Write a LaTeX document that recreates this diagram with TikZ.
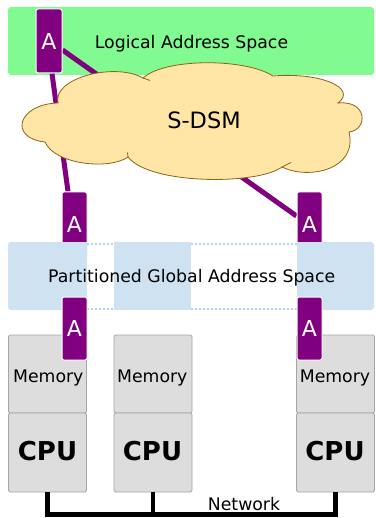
\documentclass[tikz,border=0pt]{standalone}
\usepackage{fontspec}
\setmainfont{DejaVu Sans}
\pgfdeclarelayer{bg}
\pgfdeclarelayer{links}
\pgfsetlayers{bg,links,main}
\definecolor{lasgreen}{RGB}{128,250,145}
\definecolor{apurple}{RGB}{128,0,128}
\definecolor{pgasblue}{RGB}{207,226,242}
\definecolor{dotblue}{RGB}{180,210,238}
\definecolor{cloudfill}{RGB}{255,230,166}
\definecolor{cloudline}{RGB}{140,100,20}
\definecolor{cellgray}{RGB}{221,221,221}
\definecolor{cellborder}{RGB}{165,165,165}
\begin{document}
\begin{tikzpicture}[x=1pt,y=-1pt,
  txt/.style={font=\fontsize{17.3}{20}\selectfont, inner sep=0, anchor=base},
  abox/.style={fill=apurple, draw=white, line width=1pt, rounded corners=2pt,
    minimum width=26pt, minimum height=64pt, inner sep=0, text=white,
    font=\fontsize{22}{24}\selectfont},
  link/.style={draw=apurple, line width=5pt},
  cell/.style={fill=cellgray, draw=cellborder, line width=0.8pt,
    rounded corners=1.5pt, minimum width=78pt, inner sep=0},
  cloudshape/.style={fill=cloudfill, draw=cloudline, line width=0.8pt},
  cloudtick/.style={draw=cloudline, line width=0.8pt},
  dots/.style={draw=dotblue, line width=2pt, dash pattern=on 2pt off 2pt},
  net/.style={draw=black, line width=4.5pt},
  cpulbl/.style={font=\fontsize{26}{30}\selectfont\bfseries, inner sep=0, anchor=base},
]
\useasboundingbox (0,0) rectangle (375,518);

% logical address space
\begin{pgfonlayer}{bg}
  \node[fill=lasgreen, rounded corners=3pt, minimum width=366pt,
        minimum height=68pt, inner sep=0] (las) at (191,41) {};
\end{pgfonlayer}
\node[txt] (lastxt) at (191.5,48.3) {Logical Address Space};

% accessor boxes
\node[abox] (tA) at (49,41) {A};
\node[abox, minimum width=25pt] (lA) at (74.5,224) {A};
\node[abox, minimum width=25pt] (rA) at (309.5,224) {A};

% links from the top accessor
\begin{pgfonlayer}{links}
  \draw[link] ([xshift=3pt]tA.south) -- ([xshift=-6.5pt]lA.north);
  \draw[link] ([yshift=-9pt]tA.east) -- ([yshift=8pt]rA.west);
\end{pgfonlayer}

% S-DSM cloud, bump by bump
\draw[cloudshape] (143,78) .. controls (165,58) and (245,58) .. (273,76)
  .. controls (320,72) and (358,88) .. (338,103)
  .. controls (368,100) and (368,130) .. (349,132)
  .. controls (358,170) and (308,180) .. (282,167)
  .. controls (258,185) and (150,185) .. (128,157)
  .. controls (110,170) and (55,165) .. (45,142)
  .. controls (8,138) and (18,104) .. (58,103)
  .. controls (52,78) and (115,62) .. (143,78) -- cycle;
% overlapping strokes where the bumps meet
\draw[cloudtick] (143,78) .. controls (146,78.6) .. (150,80.5);
\draw[cloudtick] (128,157) .. controls (127,155) .. (127.5,152.5);
\draw[cloudtick] (282,167) .. controls (286,165.5) .. (291,162.5);
\node[inner sep=0, anchor=base, font=\fontsize{22.5}{26}\selectfont] (sdsm) at (204,129) {S-DSM};

% partitioned global address space
\fill[pgasblue, rounded corners=3pt] (8,242) rectangle (87,310);
\fill[pgasblue] (80,242) rectangle (87,310);
\fill[pgasblue] (114,242) rectangle (191,310);
\fill[pgasblue, rounded corners=3pt] (297,242) rectangle (374,310);
\fill[pgasblue] (297,242) rectangle (304,310);
\draw[dots] (87,243.5) -- (114,243.5) (191,243.5) -- (297,243.5)
            (87,308.5) -- (114,308.5) (191,308.5) -- (297,308.5);
\node[txt] (pgastxt) at (191.7,282.7) {Partitioned Global Address Space};

% nodes: memory over cpu
\node[cell, minimum height=78pt] (mem1) at (47.5,374) {};
\node[cell, minimum height=79pt] (cpu1) at (47.5,452.5) {};
\node[cell, minimum height=78pt] (mem2) at (153,374) {};
\node[cell, minimum height=79pt] (cpu2) at (153,452.5) {};
\node[cell, minimum height=78pt] (mem3) at (335.5,374) {};
\node[cell, minimum height=79pt] (cpu3) at (335.5,452.5) {};

\node[txt] at (48.3,382.3) {Memory};
\node[txt] at (152.3,382.3) {Memory};
\node[txt] at (335,382.3) {Memory};
\node[cpulbl] at (47.5,460.7) {CPU};
\node[cpulbl] at (152.5,460.7) {CPU};
\node[cpulbl] at (335,460.7) {CPU};

% local accessors
\node[abox, minimum width=25pt, minimum height=63pt] (lA2) at (74.5,328.5) {A};
\node[abox, minimum width=25pt, minimum height=63pt] (rA2) at (309.5,328.5) {A};

% network
\draw[net] (cpu1.south) -- ++(0,22) coordinate (bus) -| (cpu3.south);
\draw[net] (cpu2.south) -- (cpu2.south |- bus);
\node[txt] (nettxt) at (244,510.7) {Network};
\end{tikzpicture}
\end{document}
